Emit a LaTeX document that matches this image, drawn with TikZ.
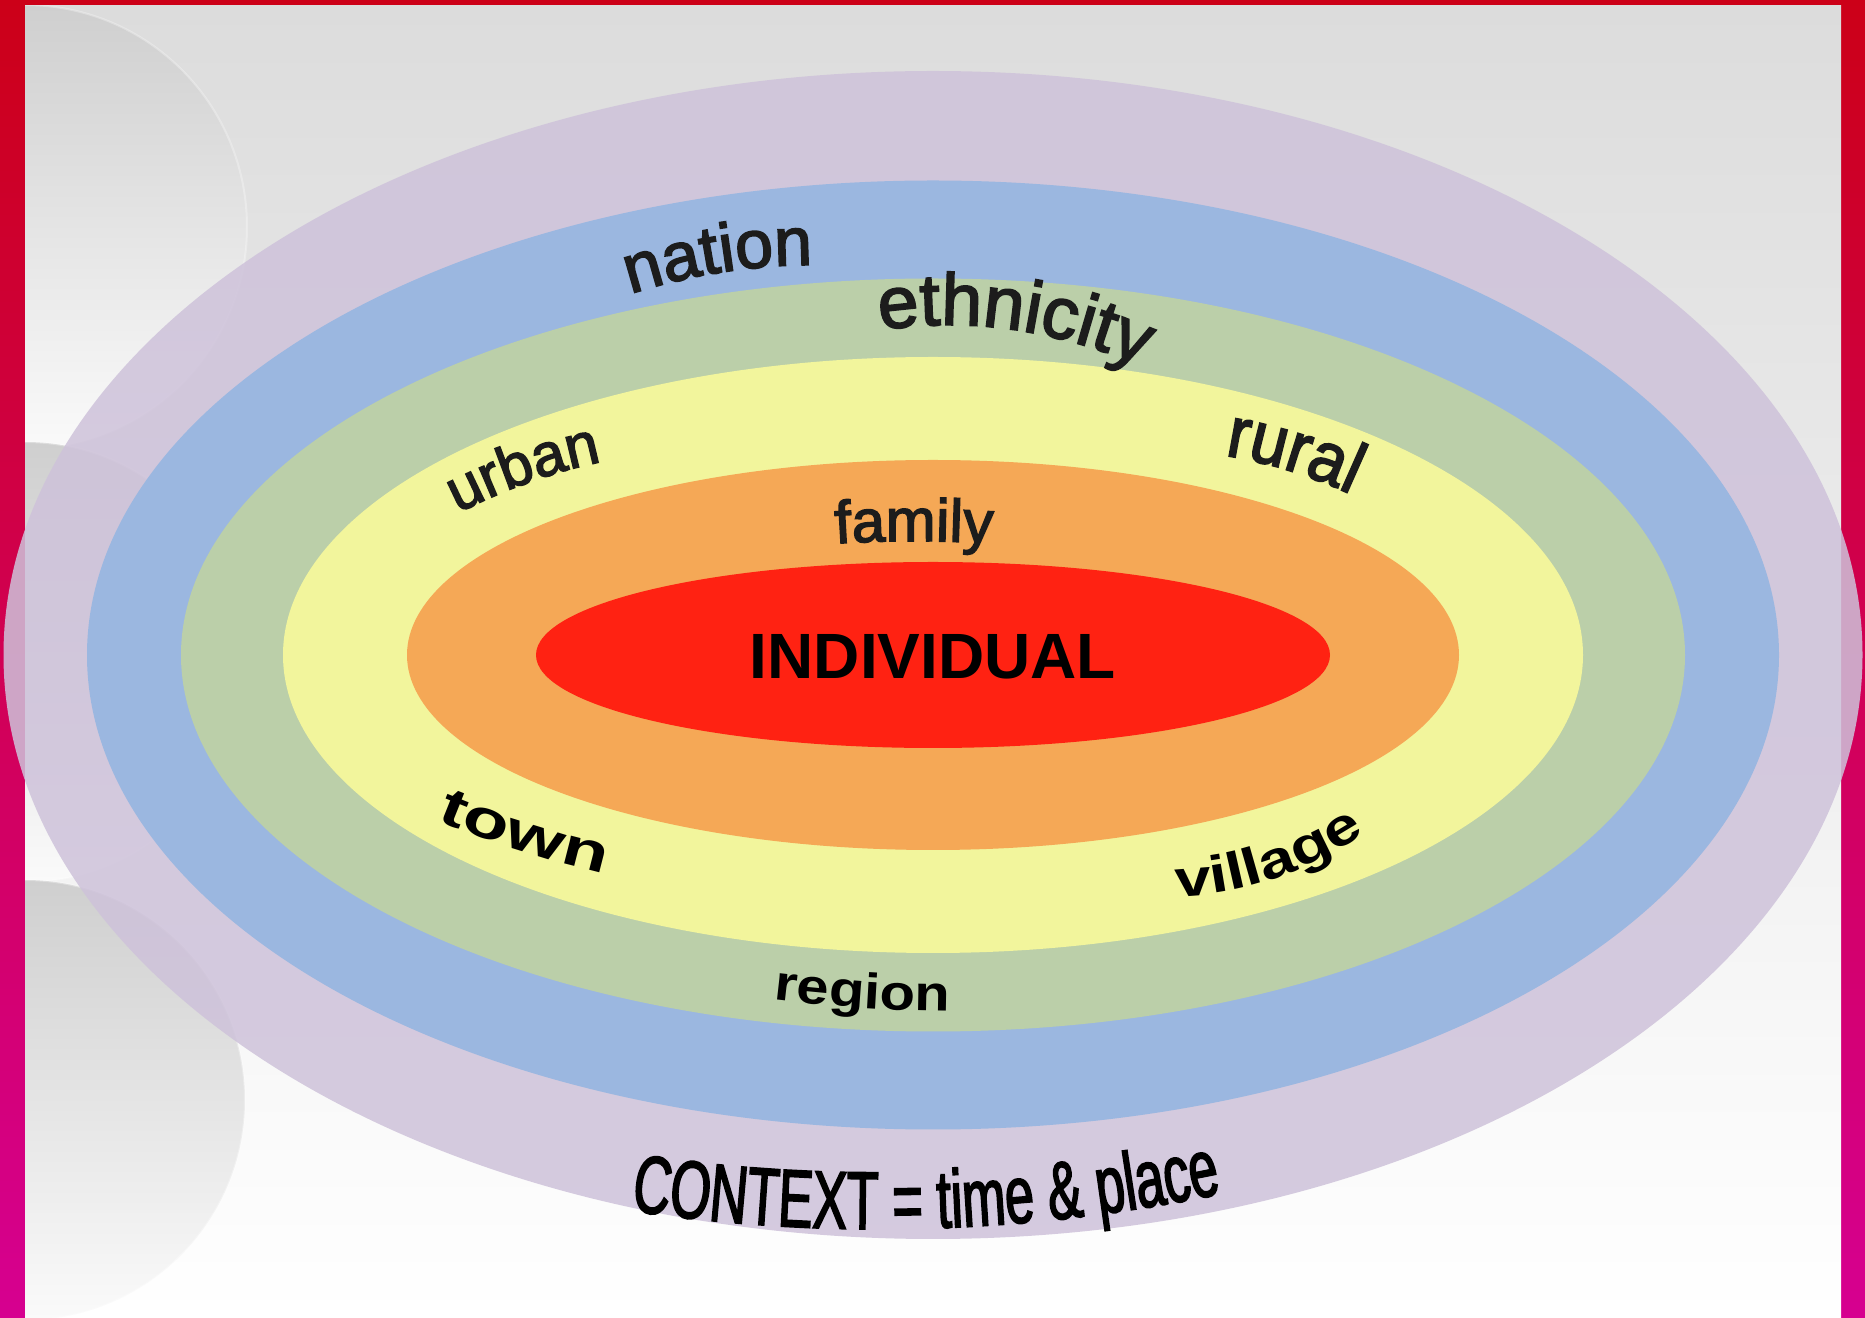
\documentclass[tikz,border=0pt]{standalone}
\usepackage{fontspec}
\setmainfont{Liberation Sans}
\newfontfamily\fLab[FakeBold=2.5]{Liberation Sans}
\newfontfamily\fRur[FakeBold=2.5,FakeStretch=0.92]{Liberation Sans}
\newfontfamily\fTown[FakeStretch=1.4]{Liberation Sans}
\newfontfamily\fVil[FakeStretch=1.25]{Liberation Sans}
\newfontfamily\fReg[FakeStretch=1.16]{Liberation Sans}
\newfontfamily\fCtx[FakeStretch=0.635,FakeBold=2]{Liberation Sans}
\usetikzlibrary{decorations.text}
\definecolor{bordtop}{RGB}{204,0,24}
\definecolor{bordbot}{RGB}{214,0,144}
\definecolor{bgtop}{RGB}{220,220,220}
\definecolor{circdark}{RGB}{207,207,207}
\definecolor{circlight}{RGB}{250,250,250}
\definecolor{cpurple}{RGB}{206,194,218}
\definecolor{cblue}{RGB}{155,183,224}
\definecolor{cgreen}{RGB}{187,207,169}
\definecolor{cyellow}{RGB}{242,245,156}
\definecolor{corange}{RGB}{245,168,86}
\definecolor{cred}{RGB}{255,34,18}
\definecolor{labcol}{RGB}{28,28,28}
\begin{document}
\begin{tikzpicture}[x=0.5pt,y=0.5pt,
  lab/.style={decorate, decoration={text along path, text align=center, text color=labcol, text={#1}}},
  blab/.style={decorate, decoration={text along path, text align=center, text color=black, text={#1}}},
  circ/.style={top color=circdark, middle color=circdark, bottom color=circlight, draw=white, draw opacity=0.3, line width=1}]
\useasboundingbox (0,0) rectangle (1865,1318);
% border
\shade[top color=bordtop, bottom color=bordbot] (0,0) rectangle (1865,1318);
% interior background
\shade[top color=bgtop, bottom color=white] (25,0) rectangle (1841,1312);
% grey half circles
\begin{scope}
\clip (25,0) rectangle (1841,1312);
\shade[circ] (25,1091) circle [radius=222];
\shade[circ] (25,656) circle [radius=220];
\shade[circ] (25,218) circle [radius=220];
\end{scope}
% ellipses
\fill[cpurple, fill opacity=0.85] (933,663) ellipse [x radius=929.5, y radius=584];
\fill[cblue] (933,663) ellipse [x radius=846, y radius=474.5];
\fill[cgreen] (933,663) ellipse [x radius=752, y radius=376.5];
\fill[cyellow] (933,663) ellipse [x radius=650, y radius=298];
\fill[corange] (933,663) ellipse [x radius=526, y radius=195];
\fill[cred] (933,663) ellipse [x radius=397, y radius=93];
% centre label
\node[font=\bfseries\fontsize{32}{32}\selectfont, text=black, inner sep=0pt] (ind) at (933,661) {INDIVIDUAL};
% curved labels
\path[lab={|\fLab\fontsize{34}{34}\selectfont|nation}] (610,1017.2) .. controls (684.7,1043.7) and (759.3,1055.5) .. (834,1052.6);
\path[lab={|\fLab\fontsize{36.5}{36.5}\selectfont|ethnicity}] (863,985.1) .. controls (961.3,1003.5) and (1059.7,990.0) .. (1158,944.5);
\path[lab={|\fLab\fontsize{30}{30}\selectfont|urban}] (448,799.7) .. controls (503,828.8) and (558,848.4) .. (613,858.3);
\path[lab={|\fRur\fontsize{36}{36}\selectfont|rural}] (1206,865.1) .. controls (1260,859.0) and (1314,842.5) .. (1368,815.5);
\path[lab={|\fLab\fontsize{30}{30}\selectfont|family}] (825,773.8) .. controls (884.3,778.0) and (943.7,778.0) .. (1003,773.8);
\path[blab={|\fTown\bfseries\fontsize{27}{27}\selectfont|town}] (421,504.3) .. controls (487.3,476.0) and (553.7,454.7) .. (620,440.5);
\path[blab={|\fVil\bfseries\fontsize{26}{26}\selectfont|village}] (1165,421.6) .. controls (1235,419.9) and (1305,443.1) .. (1375,491.2);
\path[blab={|\fReg\bfseries\fontsize{25}{25}\selectfont|region}] (760,319.8) .. controls (828,311.1) and (896,306.8) .. (964,307);
\path[blab={|\fCtx\fontsize{41}{41}\selectfont|CONTEXT = time {\&} place}] (618,109.3) .. controls (823.3,77.2) and (1028.7,83.1) .. (1234,127);
\end{tikzpicture}
\end{document}
